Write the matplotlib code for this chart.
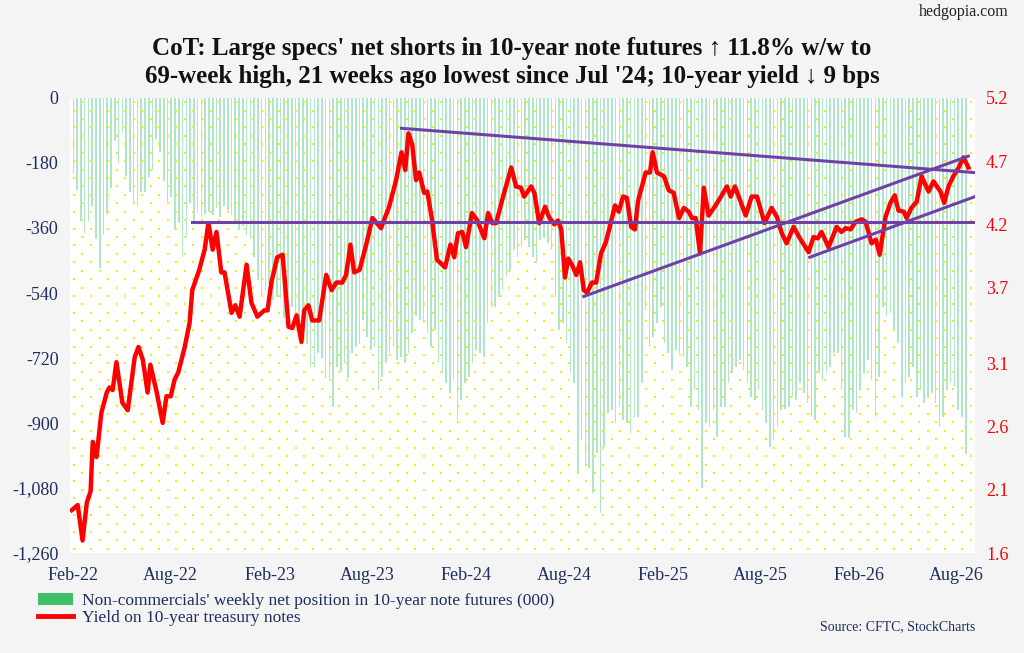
import numpy as np
import pandas as pd
import matplotlib
matplotlib.use("Agg")
import matplotlib.pyplot as plt
import matplotlib.dates as mdates
from matplotlib.patches import Patch
from matplotlib.lines import Line2D

START = pd.Timestamp("2022-01-25")

# weekly non-commercial net position, 10-year note futures (000)
net_pos = [
    -200, -210, -255, -340, -375, -340, -300, -390, -470, -380,
    -320, -250, -120, -180, -95, -215, -260, -290, -300, -260,
    -260, -220, -200, -115, -150, -230, -290, -275, -365, -345,
    -440, -385, -290, -340, -315, -330, -320, -315, -325, -305,
    -330, -300, -310, -325, -340, -365, -355, -380, -390, -440,
    -505, -545, -535, -515, -560, -550, -555, -610, -600, -580,
    -615, -640, -660, -680, -745, -745, -705, -720, -775, -780,
    -855, -745, -760, -735, -775, -705, -690, -680, -615, -661,
    -698, -689, -808, -772, -735, -707, -689, -725, -716, -735,
    -707, -652, -605, -615, -624, -652, -689, -642, -735, -762,
    -790, -818, -781, -892, -836, -790, -772, -735, -698, -707,
    -716, -624, -578, -578, -550, -532, -495, -476, -421, -440,
    -412, -393, -412, -440, -458, -393, -384, -402, -421, -550,
    -642, -624, -679, -762, -790, -1039, -947, -1012, -1025, -1095,
    -984, -1150, -965, -873, -864, -901, -855, -892, -901, -928,
    -882, -882, -790, -587, -689, -661, -624, -578, -679, -707,
    -753, -698, -707, -716, -744, -855, -808, -864, -1081, -901,
    -910, -864, -938, -855, -855, -790, -762, -744, -725, -753,
    -790, -827, -836, -808, -864, -901, -965, -947, -910, -864,
    -860, -855, -827, -836, -790, -818, -845, -882, -892, -762,
    -781, -762, -744, -707, -707, -808, -938, -942, -864, -873,
    -808, -762, -725, -781, -882, -772, -578, -605, -596, -642,
    -679, -827, -790, -772, -744, -827, -808, -845, -827, -818,
    -845, -910, -882, -808, -790, -799, -864, -882, -986,
]

# 10-year treasury yield, sampled at day offsets from START
yield_days = [
    4, 15, 24, 32, 39, 43, 50, 59, 69, 74, 80, 87, 98, 108, 121, 128, 136, 145,
    150, 162, 173, 180, 188, 195, 202, 214, 223, 228, 241, 251, 258, 266, 273,
    282, 288, 301, 308, 316, 329, 338, 349, 362, 368, 375, 386, 396, 407, 414,
    422, 431, 436, 444, 451, 464, 477, 487, 496, 507, 514, 522, 529, 539, 552,
    563, 579, 594, 607, 617, 624, 630, 637, 644, 650, 659, 665, 674, 683, 698,
    708, 715, 722, 730, 737, 748, 758, 771, 778, 786, 793, 804, 821, 830, 839,
    845, 858, 864, 873, 884, 891, 901, 908, 914, 921, 927, 934, 942, 949, 956,
    962, 971, 979, 988, 997, 1003, 1014, 1021, 1029, 1036, 1044, 1051, 1057,
    1071, 1079, 1084, 1092, 1105, 1114, 1123, 1133, 1142, 1151, 1157, 1164,
    1172, 1179, 1188, 1201, 1211, 1222, 1229, 1237, 1244, 1257, 1268, 1278,
    1292, 1305, 1315, 1324, 1333, 1346, 1359, 1374, 1383, 1391, 1398, 1411,
    1426, 1435, 1443, 1452, 1461, 1473, 1480, 1491, 1499, 1506, 1517, 1526,
    1534, 1541, 1551, 1556, 1565, 1575, 1584, 1597, 1606, 1619, 1626, 1634,
    1643, 1653, 1662, 1671,
]
yield_vals = [
    1.94, 1.98, 1.70, 2.00, 2.09, 2.48, 2.36, 2.71, 2.87, 2.91, 2.89, 3.11, 2.79,
    2.73, 3.15, 3.23, 3.13, 2.87, 3.09, 2.87, 2.63, 2.84, 2.84, 2.97, 3.03, 3.23,
    3.42, 3.68, 3.84, 4.00, 4.21, 4.00, 4.14, 3.82, 3.82, 3.50, 3.56, 3.47, 3.88,
    3.58, 3.47, 3.52, 3.52, 3.74, 3.94, 3.96, 3.39, 3.38, 3.48, 3.27, 3.52, 3.56,
    3.44, 3.44, 3.80, 3.68, 3.74, 3.74, 3.80, 4.04, 3.82, 3.84, 4.05, 4.25, 4.17,
    4.34, 4.55, 4.77, 4.63, 4.92, 4.83, 4.55, 4.61, 4.45, 4.46, 4.23, 3.92, 3.86,
    4.04, 3.94, 4.13, 4.14, 4.02, 4.29, 4.23, 4.09, 4.29, 4.21, 4.21, 4.39, 4.65,
    4.50, 4.49, 4.42, 4.50, 4.45, 4.21, 4.34, 4.26, 4.20, 4.23, 4.16, 3.78, 3.93,
    3.88, 3.80, 3.90, 3.68, 3.66, 3.74, 3.74, 3.97, 4.06, 4.16, 4.35, 4.30, 4.42,
    4.41, 4.18, 4.16, 4.39, 4.61, 4.61, 4.77, 4.61, 4.58, 4.47, 4.45, 4.25, 4.33,
    4.30, 4.25, 4.25, 3.97, 4.49, 4.27, 4.35, 4.42, 4.50, 4.42, 4.50, 4.42, 4.27,
    4.42, 4.42, 4.21, 4.33, 4.26, 4.13, 4.05, 4.18, 4.08, 3.98, 4.10, 4.09, 4.14,
    4.02, 4.18, 4.14, 4.17, 4.16, 4.22, 4.24, 4.22, 4.05, 4.08, 3.96, 4.26, 4.37,
    4.43, 4.31, 4.30, 4.25, 4.33, 4.38, 4.58, 4.46, 4.54, 4.46, 4.37, 4.50, 4.58,
    4.65, 4.73, 4.65,
]

# trend lines (day offset, yield)
trend_lines = [
    ((228, 4.22), (1681, 4.22)),
    ((617, 4.96), (1681, 4.61)),
    ((956, 3.63), (1671, 4.74)),
    ((1376, 3.94), (1690, 4.43)),
]

left_ticks = [0, -180, -360, -540, -720, -900, -1080, -1260]
right_ticks = [1.6, 2.1, 2.6, 3.1, 3.7, 4.2, 4.7, 5.2]

NAVY = "#1c2d5e"
GREEN = "#b0e6c8"
RED = "#ff0000"
PURPLE = "#7040a8"
SERIF = ["Liberation Serif", "DejaVu Serif"]

plt.rcParams["font.family"] = SERIF

fig = plt.figure(figsize=(10.24, 6.53), dpi=100, facecolor="#f4f4f4")
ax = fig.add_axes([0.068, 0.153, 0.884, 0.697])
ax.set_facecolor("white")

day = lambda d: START + pd.Timedelta(days=d)
x0, x1 = day(0), day(1683)

# staggered yellow dot background (decoration, axes coordinates)
ncol, nrow = 53, 54
dots_x, dots_y = [], []
for r in range(nrow):
    off = 0.5 if r % 2 else 0.0
    for c in range(ncol):
        dots_x.append((c + off + 0.25) / ncol)
        dots_y.append((r + 0.5) / nrow)
ax.scatter(dots_x, dots_y, s=2.2, color="#f0ee10", marker="s",
           transform=ax.transAxes, zorder=0, linewidths=0)

bar_dates = [START + pd.Timedelta(weeks=i) for i in range(len(net_pos))]
ax.bar(bar_dates, net_pos, width=3.0, color=GREEN, zorder=1, align="center")
ax.set_ylim(-1260, 0)
ax.set_xlim(x0, x1)
ax.set_yticks(left_ticks)
ax.set_yticklabels([f"{v:,}" for v in left_ticks])

ax2 = ax.twinx()
ax2.plot([day(d) for d in yield_days], yield_vals, color=RED, lw=3.2,
         solid_joinstyle="round", zorder=3)
for (d0, v0), (d1, v1) in trend_lines:
    ax2.plot([day(d0), day(d1)], [v0, v1], color=PURPLE, lw=2.2, zorder=4)
ax2.set_ylim(1.6, 5.2)
ax2.set_yticks(right_ticks)
ax2.set_xlim(x0, x1)

ax.xaxis.set_major_locator(mdates.MonthLocator(bymonth=[2, 8]))
ax.xaxis.set_major_formatter(mdates.DateFormatter("%b-%y"))

for a in (ax, ax2):
    for s in a.spines.values():
        s.set_visible(False)
    a.tick_params(length=0, labelsize=13)
ax.tick_params(axis="y", colors=NAVY, pad=8)
ax.tick_params(axis="x", colors=NAVY, pad=10)
ax2.tick_params(axis="y", colors=RED, pad=8)

fig.text(0.5, 0.926, "CoT: Large specs' net shorts in 10-year note futures \u2191 11.8% w/w to",
         ha="center", va="center", fontsize=18, fontweight="bold", color="#111111")
fig.text(0.5, 0.883, "69-week high, 21 weeks ago lowest since Jul '24; 10-year yield \u2193 9 bps",
         ha="center", va="center", fontsize=18, fontweight="bold", color="#111111")
fig.text(0.985, 0.982, "hedgopia.com", ha="right", va="center", fontsize=11.5, color="#222222")
fig.text(0.952, 0.04, "Source: CFTC, StockCharts", ha="right", va="center",
         fontsize=10, color=NAVY)

handles = [Patch(facecolor="#3fbf6a", edgecolor="none"),
           Line2D([0], [0], color=RED, lw=3.5)]
labels = ["Non-commercials' weekly net position in 10-year note futures (000)",
          "Yield on 10-year treasury notes"]
fig.legend(handles, labels, loc="lower left", bbox_to_anchor=(0.022, 0.018),
           frameon=False, fontsize=12.5, handlelength=2.0, handleheight=0.7,
           labelspacing=0.0, handletextpad=0.5, labelcolor=NAVY)

fig.savefig("out.png", dpi=100, facecolor=fig.get_facecolor())
